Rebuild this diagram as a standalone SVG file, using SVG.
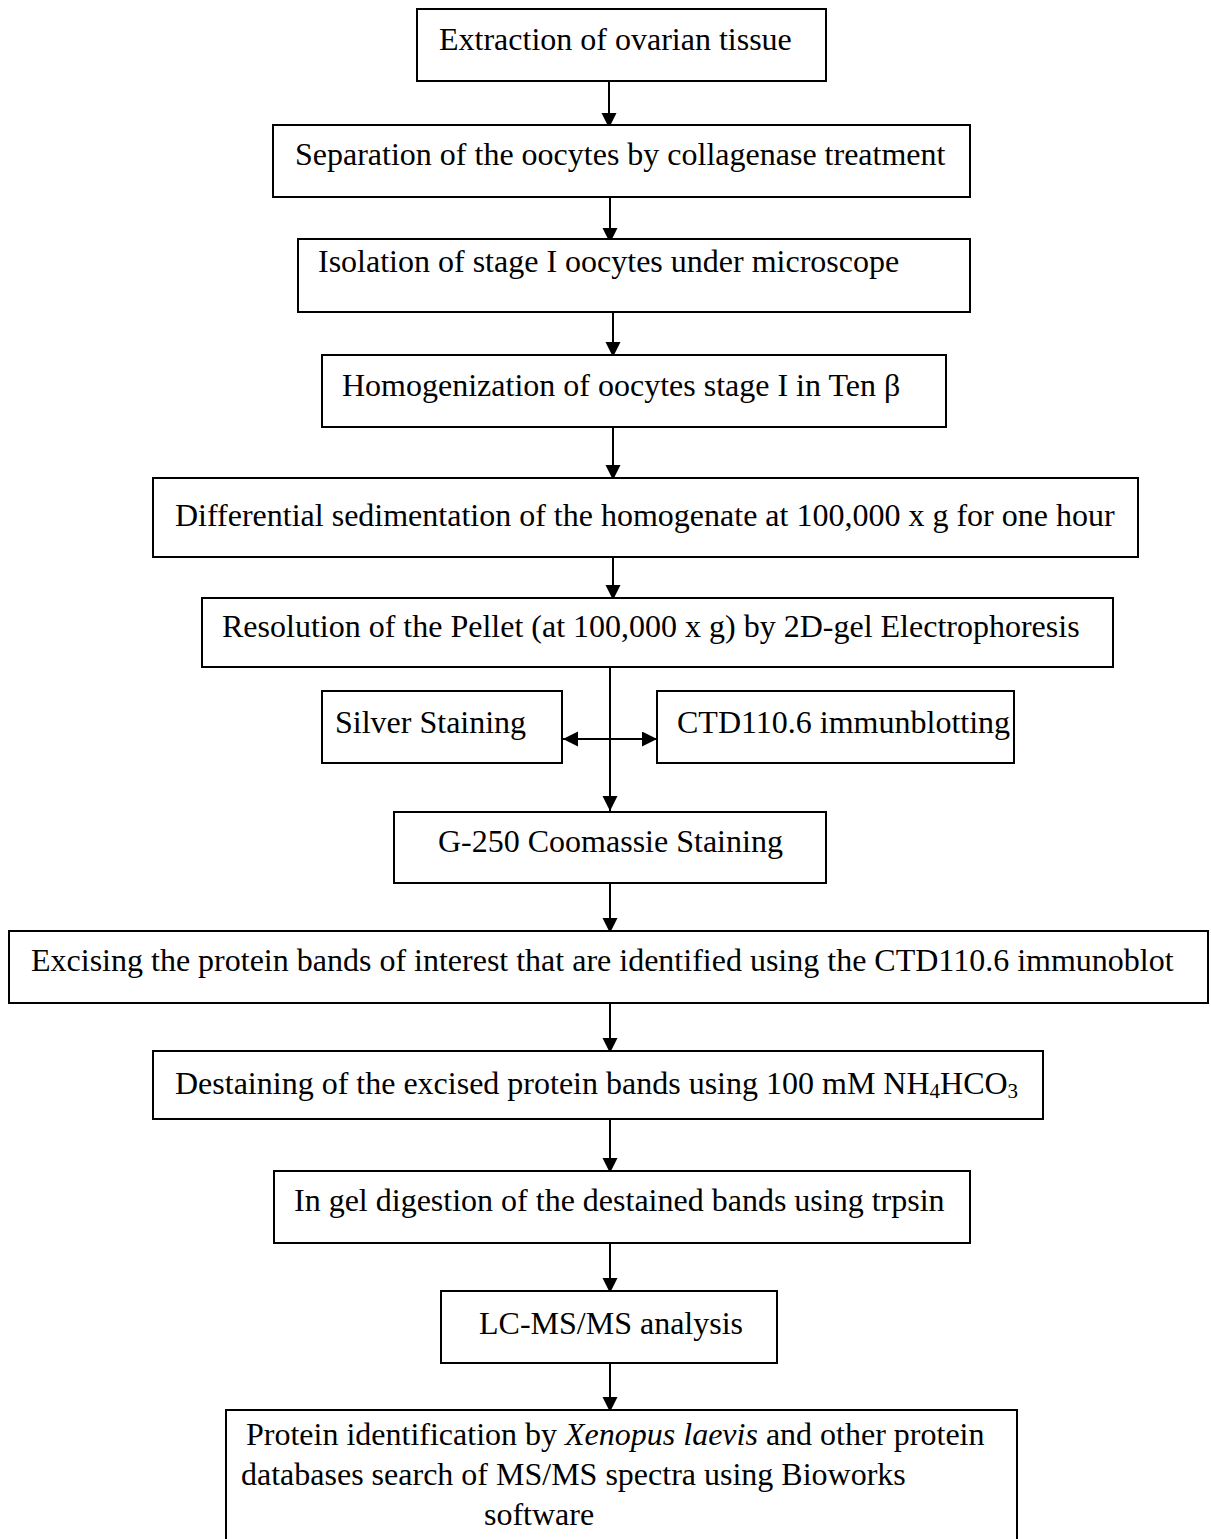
<svg xmlns="http://www.w3.org/2000/svg" width="1211" height="1539" viewBox="0 0 1211 1539">
<style>
.box{fill:#fff;stroke:#000;stroke-width:2}
.t{font-family:"Liberation Serif","Times New Roman",serif;font-size:32px;fill:#000}
.c{stroke:#000;stroke-width:2;fill:none}
.sub{font-size:21px}
</style>
<defs>
<marker id="ah" markerUnits="userSpaceOnUse" markerWidth="16" markerHeight="16" refX="15" refY="7.5" orient="auto-start-reverse">
<path d="M0,0 L15,7.5 L0,15 Z" fill="#000"/>
</marker>
</defs>
<rect x="0" y="0" width="1211" height="1539" fill="#fff"/>
<g id="connectors">
<line class="c" x1="609" y1="81" x2="609" y2="128" marker-end="url(#ah)"/>
<line class="c" x1="610" y1="197" x2="610" y2="243" marker-end="url(#ah)"/>
<line class="c" x1="613" y1="312" x2="613" y2="357" marker-end="url(#ah)"/>
<line class="c" x1="613" y1="427" x2="613" y2="480" marker-end="url(#ah)"/>
<line class="c" x1="613" y1="557" x2="613" y2="600" marker-end="url(#ah)"/>
<line class="c" x1="610" y1="667" x2="610" y2="811" marker-end="url(#ah)"/>
<line class="c" x1="563" y1="739" x2="657" y2="739" marker-start="url(#ah)" marker-end="url(#ah)"/>
<line class="c" x1="610" y1="883" x2="610" y2="933" marker-end="url(#ah)"/>
<line class="c" x1="610" y1="1003" x2="610" y2="1053" marker-end="url(#ah)"/>
<line class="c" x1="610" y1="1119" x2="610" y2="1173" marker-end="url(#ah)"/>
<line class="c" x1="610" y1="1243" x2="610" y2="1293" marker-end="url(#ah)"/>
<line class="c" x1="610" y1="1363" x2="610" y2="1412" marker-end="url(#ah)"/>
</g>
<g id="n1"><rect class="box" x="417" y="9" width="409" height="72"/><text class="t" x="439" y="50">Extraction of ovarian tissue</text></g>
<g id="n2"><rect class="box" x="273" y="125" width="697" height="72"/><text class="t" x="295" y="165">Separation of the oocytes by collagenase treatment</text></g>
<g id="n3"><rect class="box" x="298" y="239" width="672" height="73"/><text class="t" x="318" y="272">Isolation of stage I oocytes under microscope</text></g>
<g id="n4"><rect class="box" x="322" y="355" width="624" height="72"/><text class="t" x="342" y="396">Homogenization of oocytes stage I in Ten β</text></g>
<g id="n5"><rect class="box" x="153" y="478" width="985" height="79"/><text class="t" x="175" y="526">Differential sedimentation of the homogenate at 100,000 x g for one hour</text></g>
<g id="n6"><rect class="box" x="202" y="598" width="911" height="69"/><text class="t" x="222" y="637">Resolution of the Pellet (at 100,000 x g) by 2D-gel Electrophoresis</text></g>
<g id="n7"><rect class="box" x="322" y="691" width="240" height="72"/><text class="t" x="335" y="733">Silver Staining</text></g>
<g id="n8"><rect class="box" x="657" y="691" width="357" height="72"/><text class="t" x="677" y="733">CTD110.6 immunblotting</text></g>
<g id="n9"><rect class="box" x="394" y="812" width="432" height="71"/><text class="t" x="438" y="852">G-250 Coomassie Staining</text></g>
<g id="n10"><rect class="box" x="9" y="931" width="1199" height="72"/><text class="t" x="31" y="971">Excising the protein bands of interest that are identified using the CTD110.6 immunoblot</text></g>
<g id="n11"><rect class="box" x="153" y="1051" width="890" height="68"/><text class="t" x="175" y="1094">Destaining of the excised protein bands using 100 mM NH<tspan class="sub" dy="4">4</tspan><tspan dy="-4">HCO</tspan><tspan class="sub" dy="4">3</tspan></text></g>
<g id="n12"><rect class="box" x="274" y="1171" width="696" height="72"/><text class="t" x="294" y="1211">In gel digestion of the destained bands using trpsin</text></g>
<g id="n13"><rect class="box" x="441" y="1291" width="336" height="72"/><text class="t" x="479" y="1334">LC-MS/MS analysis</text></g>
<g id="n14"><rect class="box" x="226" y="1410" width="791" height="140"/>
<text class="t" x="246" y="1445">Protein identification by <tspan font-style="italic">Xenopus laevis</tspan> and other protein</text>
<text class="t" x="241" y="1485">databases search of MS/MS spectra using Bioworks</text>
<text class="t" x="484" y="1525">software</text></g>
</svg>
